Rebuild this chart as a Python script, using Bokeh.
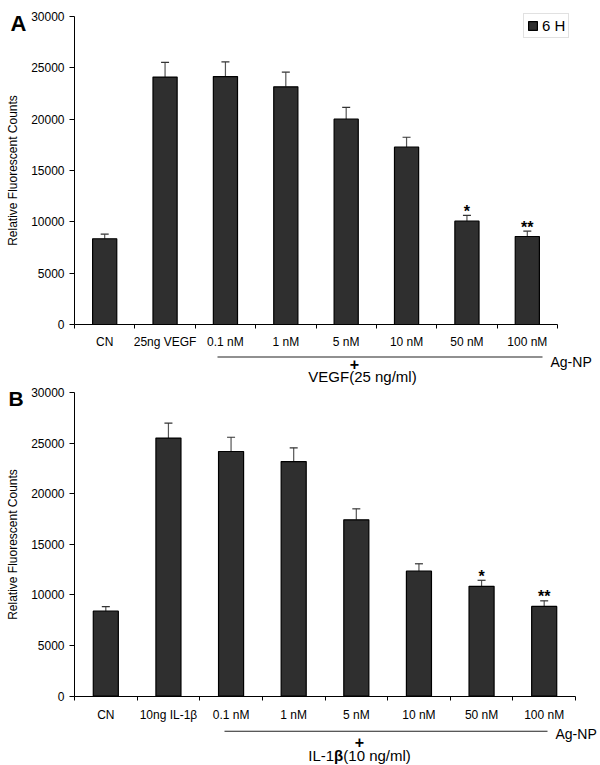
from bokeh.plotting import figure
from bokeh.models import (Range1d, FixedTicker, ColumnDataSource, Whisker, TeeHead,
                          Label, BoxAnnotation)
from bokeh.layouts import column
from bokeh.core.properties import value
from bokeh.embed import file_html
from bokeh.resources import INLINE

FONT = "Liberation Sans"

# ---------------- data ----------------
categories_a = ["CN", "25ng VEGF", "0.1 nM", "1 nM", "5 nM", "10 nM", "50 nM", "100 nM"]
values_a = [8350, 24100, 24150, 23150, 20000, 17270, 10060, 8570]
errors_a = [450, 1430, 1430, 1430, 1140, 970, 560, 520]
signif_a = ["", "", "", "", "", "", "*", "**"]

categories_b = ["CN", "10ng IL-1β", "0.1 nM", "1 nM", "5 nM", "10 nM", "50 nM", "100 nM"]
values_b = [8400, 25500, 24170, 23180, 17420, 12350, 10850, 8870]
errors_b = [450, 1480, 1410, 1350, 1090, 730, 600, 550]
signif_b = ["", "", "", "", "", "", "*", "**"]

y_ticks = [0, 5000, 10000, 15000, 20000, 25000, 30000]
y_max = 30000
series_name = "6 H"
y_label = "Relative Fluorescent Counts"
np_label = "Ag-NP"

BAR_FILL = "#2f2f2f"
W = 600


def make_panel(cats, vals, errs, sig, H, ax_left, ax_right, ax_top, ax_bottom,
               label_standoff, legend):
    """The plot frame covers the whole canvas; the axes sit at fixed data locations."""
    n = len(cats)
    ux = (ax_right - ax_left) / n            # px per data unit (x)
    uy = y_max / (ax_bottom - ax_top)        # data units per px (y)
    x_range = Range1d(-ax_left / ux, n + (W - ax_right) / ux)
    y_range = Range1d(-(H - ax_bottom) * uy, y_max + ax_top * uy)

    centers = [i + 0.5 for i in range(n)]
    uppers = [v + e for v, e in zip(vals, errs)]
    src = ColumnDataSource(dict(x=centers, top=vals, upper=uppers, sig=sig))

    p = figure(width=W, height=H, output_backend="svg", toolbar_location=None,
               x_range=x_range, y_range=y_range, min_border=0)
    p.outline_line_color = None
    p.xgrid.visible = False
    p.ygrid.visible = False
    p.background_fill_color = "white"
    p.border_fill_color = "white"

    kw = dict(x="x", top="top", width=0.4, source=src, fill_color=BAR_FILL,
              line_color="#000000", line_width=1.2)
    if legend:
        kw["legend_label"] = series_name
    p.vbar(**kw)

    w = Whisker(source=src, base="x", lower="top", upper="upper", dimension="height",
                line_color="#555555", line_width=1.2, lower_head=None,
                upper_head=TeeHead(size=8, line_color="#333333", line_width=1.2))
    p.add_layout(w)

    p.text(x="x", y="upper", text="sig", source=src, text_align="center",
           text_baseline="alphabetic", y_offset=-4, text_font=value(FONT),
           text_font_size="16px", text_font_style="bold", text_color="#000000")

    # y axis
    ya = p.yaxis[0]
    ya.fixed_location = 0
    ya.bounds = (0, y_max)
    ya.ticker = FixedTicker(ticks=y_ticks)
    ya.minor_tick_line_color = None
    ya.major_tick_in = 0
    ya.major_tick_out = 5
    ya.major_label_standoff = 5
    ya.major_label_text_font = FONT
    ya.major_label_text_font_size = "12px"
    ya.major_label_text_color = "#000000"
    ya.axis_line_color = "#000000"
    ya.major_tick_line_color = "#000000"
    ya.axis_label = y_label
    ya.axis_label_text_font = FONT
    ya.axis_label_text_font_size = "12px"
    ya.axis_label_text_font_style = "normal"
    ya.axis_label_text_color = "#000000"
    ya.axis_label_standoff = 8

    # x axis: labels at centers, ticks at category boundaries
    xa = p.xaxis[0]
    xa.fixed_location = 0
    xa.bounds = (0, n)
    xa.ticker = FixedTicker(ticks=centers, minor_ticks=list(range(n + 1)))
    xa.major_label_overrides = {c: lab for c, lab in zip(centers, cats)}
    xa.major_tick_line_color = None
    xa.major_tick_in = 0
    xa.major_tick_out = 4
    xa.minor_tick_in = 0
    xa.minor_tick_out = 4
    xa.minor_tick_line_color = "#000000"
    xa.axis_line_color = "#000000"
    xa.major_label_standoff = label_standoff
    xa.major_label_text_font = FONT
    xa.major_label_text_font_size = "12px"
    xa.major_label_text_color = "#000000"
    return p


def lab(p, sx, sy, text, size, style="normal", align="left", baseline="middle", x_offset=0):
    p.add_layout(Label(x=sx, y=sy, x_units="screen", y_units="screen", text=text,
                       x_offset=x_offset, text_font=FONT, text_font_size=size,
                       text_font_style=style, text_align=align, text_baseline=baseline,
                       text_color="#000000"))


def hline(p, x0, x1, sy):
    p.add_layout(BoxAnnotation(left=x0, right=x1, top=sy + 0.5, bottom=sy - 0.5,
                               left_units="screen", right_units="screen",
                               top_units="screen", bottom_units="screen",
                               fill_color="#222222", fill_alpha=1, line_color=None))


# ---------------- panel A ----------------
HA = 385
pA = make_panel(categories_a, values_a, errors_a, signif_a, HA,
                ax_left=74, ax_right=557, ax_top=16, ax_bottom=324,
                label_standoff=6, legend=True)
lg = pA.legend[0]
lg.location = (523, HA - 38)
lg.margin = 0
lg.padding = 3
lg.spacing = 0
lg.glyph_width = 11
lg.glyph_height = 11
lg.label_standoff = 4
lg.label_height = 15
lg.label_text_font = FONT
lg.label_text_font_size = "15px"
lg.label_text_color = "#000000"
lg.border_line_color = "#c4c4c4"
lg.border_line_width = 1
lg.background_fill_color = "white"

lab(pA, 10, HA - 23, "A", "22px", style="bold", baseline="alphabetic")
hline(pA, 217, 542, HA - 356.5)
lab(pA, 550, HA - 361, np_label, "14px")
lab(pA, 354, HA - 363, "+", "16px", style="bold", align="center")
lab(pA, 362, HA - 375.5, "VEGF(25 ng/ml)", "15px", align="center")

# ---------------- panel B ----------------
HB = 380
pB = make_panel(categories_b, values_b, errors_b, signif_b, HB,
                ax_left=74, ax_right=575, ax_top=7, ax_bottom=310.7,
                label_standoff=8, legend=False)
lab(pB, 8, HB - 13, "B", "21px", style="bold", baseline="alphabetic")
hline(pB, 224, 547, HB - 345.7)
lab(pB, 555, HB - 348, np_label, "14px")
lab(pB, 359, HB - 356, "+", "16px", style="bold", align="center")
cx, cy = 359, HB - 370
for txt, style, off, align in [("IL-1", "normal", -25.4, "right"),
                               ("β", "bold", -20.8, "center"),
                               ("(10 ng/ml)", "normal", -16.2, "left")]:
    lab(pB, cx, cy, txt, "15px", style=style, align=align, x_offset=off)

layout = column(pA, pB, spacing=0)
open("out.html", "w").write(file_html(layout, INLINE))
